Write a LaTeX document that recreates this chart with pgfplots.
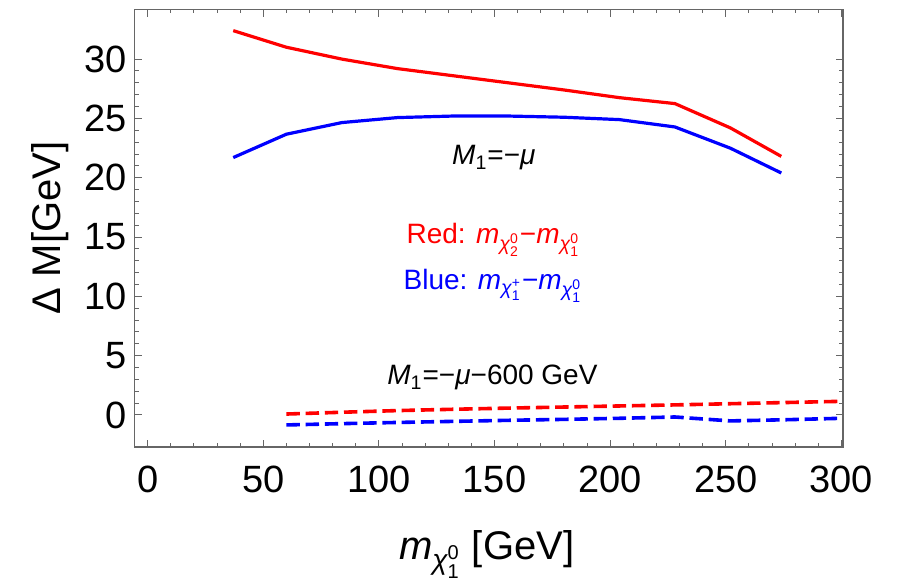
\documentclass[border=0pt]{standalone}
\usepackage{fontspec}
\setmainfont{Liberation Sans}
\usepackage{amsmath}
\usepackage{pgfplots}
\pgfplotsset{compat=1.18}
\definecolor{framegray}{gray}{0.4}
\begin{document}
\begin{tikzpicture}
\useasboundingbox (0,0) rectangle (449.5pt,292.5pt);
\begin{axis}[
  at={(67.25pt,69pt)}, anchor=south west,
  scale only axis, width=354.25pt, height=218.85pt,
  xmin=-5.7, xmax=300.7, ymin=-2.7, ymax=34.2,
  xtick={0,50,...,300}, ytick={0,5,...,30},
  minor x tick num=4, minor y tick num=4,
  tick align=inside, tickpos=both,
  major tick length=3.65pt, minor tick length=2pt,
  every tick/.style={framegray, line width=0.5pt},
  axis line style={framegray, line width=0.75pt},
  /pgf/number format/assume math mode=true,
  ticklabel style={font=\fontsize{19}{22}\selectfont, text=black},
  xticklabel style={inner sep=0pt, yshift=-9.5pt},
  yticklabel style={inner sep=0pt, xshift=-3.9pt},
  xlabel={$\textit{m}_{\textit{χ}^{\text{0}}_{\text{1}}}$ [GeV]},
  ylabel={Δ M[GeV]},
  label style={font=\fontsize{20}{24}\selectfont},
  xlabel style={at={(axis description cs:0.497,-0.258)}, anchor=base},
  ylabel style={at={(axis description cs:-0.105,0.5)}, anchor=base, rotate=0},
  clip=false,
]
\addplot[red, line width=1.6pt] coordinates {
(37,32.4) (60,31.0) (84,30.0) (108,29.2) (132,28.6) (156,28.0) (180,27.4) (204,26.75) (228,26.25) (252,24.2) (274,21.8)};
\addplot[blue, line width=1.6pt] coordinates {
(37,21.7) (60,23.67) (84,24.65) (108,25.07) (132,25.2) (156,25.2) (180,25.1) (204,24.9) (228,24.28) (252,22.49) (274,20.4)};
\addplot[red, line width=1.8pt, dash pattern=on 6.7pt off 2.9pt] coordinates {
(60,0.08) (84,0.23) (108,0.37) (132,0.48) (156,0.58) (180,0.67) (204,0.76) (228,0.85) (252,0.95) (276,1.05) (300,1.15)};
\addplot[blue, line width=1.8pt, dash pattern=on 6.7pt off 2.9pt] coordinates {
(60,-0.84) (84,-0.73) (108,-0.63) (132,-0.54) (156,-0.45) (180,-0.37) (204,-0.28) (228,-0.17) (252,-0.5) (276,-0.4) (300,-0.28)};
\node[anchor=base, font=\fontsize{14}{16}\selectfont] at (axis cs:149.7,21.08) {\textit{M}\textsubscript{1}=−\textit{μ}};
\node[anchor=base, font=\fontsize{14}{16}\selectfont, text=red] at (axis cs:149.5,14.47) {Red: $\textit{m}_{\textit{χ}^{\text{0}}_{\text{2}}}$−$\textit{m}_{\textit{χ}^{\text{0}}_{\text{1}}}$};
\node[anchor=base, font=\fontsize{14}{16}\selectfont, text=blue] at (axis cs:149.3,10.6) {Blue: $\textit{m}_{\textit{χ}^{\text{+}}_{\text{1}}}$−$\textit{m}_{\textit{χ}^{\text{0}}_{\text{1}}}$};
\node[anchor=base, font=\fontsize{14}{16}\selectfont] at (axis cs:149.1,2.53) {\textit{M}\textsubscript{1}=−\textit{μ}−600 GeV};
\end{axis}
\end{tikzpicture}
\end{document}
